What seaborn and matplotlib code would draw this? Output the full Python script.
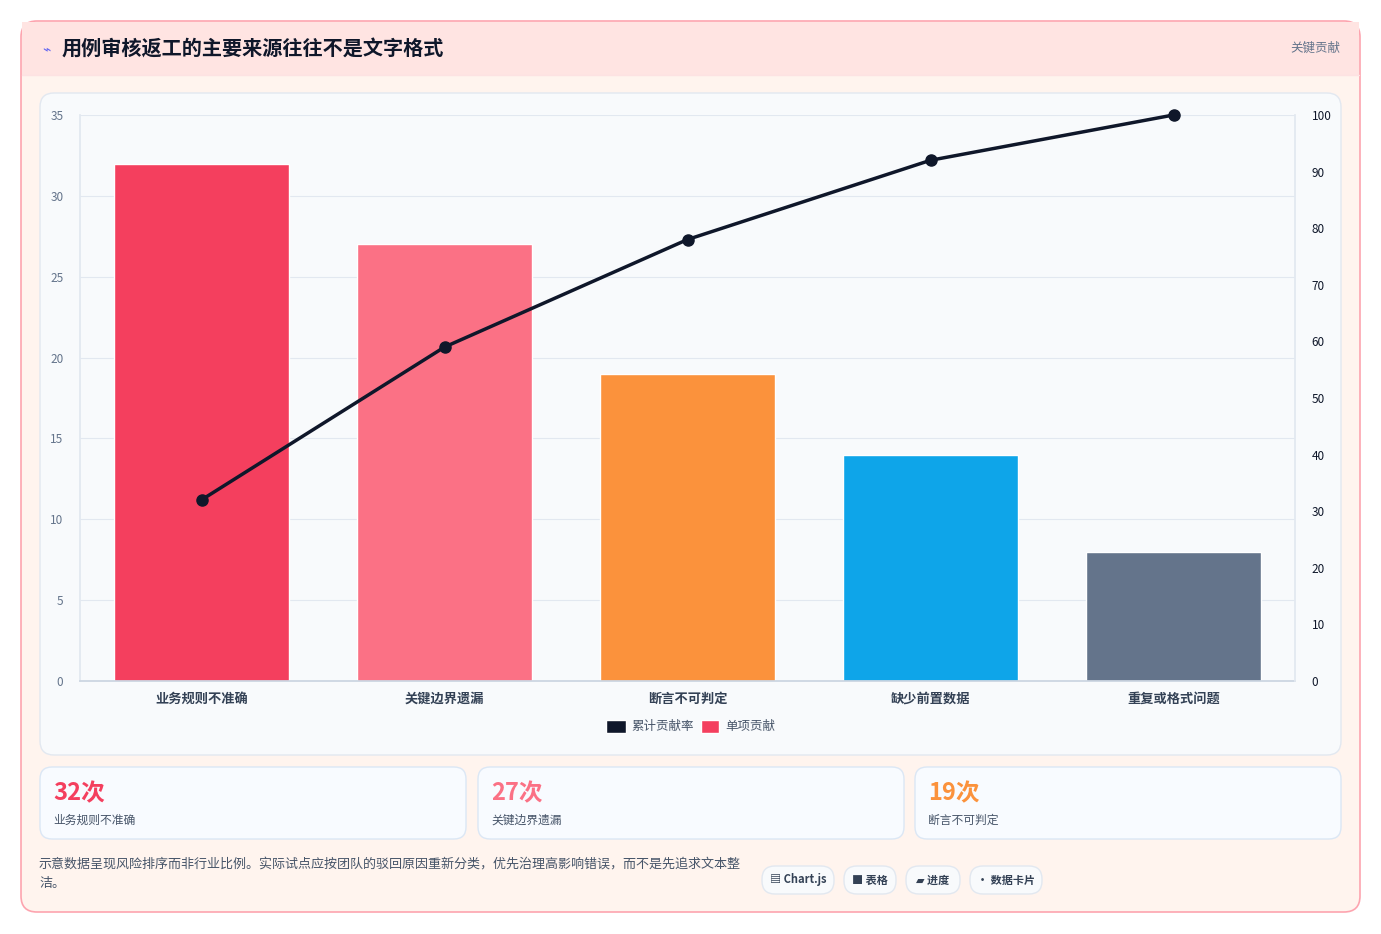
import matplotlib
matplotlib.use("Agg")
import matplotlib.pyplot as plt
import seaborn as sns
import pandas as pd
from matplotlib.patches import FancyBboxPatch, Rectangle
from matplotlib.lines import Line2D

categories = ["业务规则不准确", "关键边界遗漏", "断言不可判定", "缺少前置数据", "重复或格式问题"]
counts = [32, 27, 19, 14, 8]
cumulative = [32, 59, 78, 92, 100]
colors = ["#f43f5e", "#fb7185", "#fb923c", "#0ea5e9", "#64748b"]
left_ticks = [0, 5, 10, 15, 20, 25, 30, 35]
right_ticks = [0, 10, 20, 30, 40, 50, 60, 70, 80, 90, 100]

sns.set_theme(style="white")
plt.rcParams['font.family'] = ['Noto Sans CJK SC', 'DejaVu Sans']

W, H = 1381, 934
fig = plt.figure(figsize=(W/100, H/100), dpi=100)
fig.patch.set_facecolor("white")

def box(x, y, w, h, fc, ec, r=12, lw=1, z=0):
    p = FancyBboxPatch((x/W, 1-(y+h)/H), w/W, h/H,
                       boxstyle=f"round,pad=0,rounding_size={r/W}",
                       fc=fc, ec=ec, lw=lw, transform=fig.transFigure, zorder=z,
                       mutation_aspect=W/H)
    fig.patches.append(p)

# outer card
box(21, 21, 1339, 891, "#fff4ee", "#fda4af", r=16, lw=1.2)
fig.patches.append(Rectangle((22/W, 1-75/H), 1337/W, 53/H, fc="#ffe4e2", ec="none",
                             transform=fig.transFigure, zorder=0.5))
fig.add_artist(Line2D([22/W, 1359/W], [1-75/H, 1-75/H], color="#fde2e2", lw=1))
fig.text(42/W, 1-49/H, "⌁", color="#6366f1", fontsize=10, va="center")
fig.text(62/W, 1-49/H, "用例审核返工的主要来源往往不是文字格式", fontsize=14.5,
         fontweight="bold", color="#0f172a", va="center")
fig.text(1340/W, 1-48/H, "关键贡献", fontsize=9, color="#64748b", va="center", ha="right")

# chart panel
box(40, 93, 1301, 662, "#f8fafc", "#e2e8f0", r=14)

ax = fig.add_axes([80/W, 1-681/H, 1215/W, 566/H])
ax.set_zorder(3)
ax.set_facecolor("none")
df = pd.DataFrame({"cat": categories, "count": counts})
sns.barplot(data=df, x="cat", y="count", hue="cat", palette=colors, legend=False,
            width=0.72, ax=ax, saturation=1)
ax.set_ylim(0, 35)
ax.set_yticks(left_ticks)
ax.set_xlim(-0.5, 4.5)
ax.grid(axis="y", color="#e2e8f0", lw=0.8)
ax.set_axisbelow(True)
for s in ["top", "right"]:
    ax.spines[s].set_visible(False)
ax.spines["left"].set_color("#e2e8f0")
ax.spines["bottom"].set_color("#cbd5e1")
ax.set_xlabel(""); ax.set_ylabel("")
ax.tick_params(axis="y", labelsize=8.5, colors="#64748b", length=0, pad=12)
ax.tick_params(axis="x", labelsize=9.5, length=0, pad=8)
for t in ax.get_xticklabels():
    t.set_color("#334155"); t.set_fontweight("bold")

ax2 = ax.twinx()
ax2.set_zorder(4)
ax2.set_facecolor("none")
ax2.plot(range(len(categories)), cumulative, color="#0f172a", lw=2.5, marker="o",
         markersize=8, zorder=5, clip_on=False)
ax2.set_ylim(0, 100)
ax2.set_yticks(right_ticks)
ax2.tick_params(axis="y", labelsize=8.5, colors="#0f172a", length=0, pad=12)
for s in ["top", "left", "bottom"]:
    ax2.spines[s].set_visible(False)
ax2.spines["right"].set_color("#e2e8f0")
ax2.grid(False)

# legend
fig.patches.append(Rectangle((606/W, 1-733/H), 20/W, 13/H, fc="#0f172a", transform=fig.transFigure))
fig.text(631/W, 1-726/H, "累计贡献率", fontsize=9, color="#475569", va="center")
fig.patches.append(Rectangle((701/W, 1-733/H), 18/W, 13/H, fc="#f43f5e", transform=fig.transFigure))
fig.text(725/W, 1-726/H, "单项贡献", fontsize=9, color="#475569", va="center")

# stat cards
cards = [(40, "32次", "业务规则不准确", "#f43f5e"),
         (478, "27次", "关键边界遗漏", "#fb7185"),
         (915, "19次", "断言不可判定", "#fb923c")]
for x, v, lab, c in cards:
    box(x, 767, 426, 72, "#f8fbff", "#dbe7f5", r=12)
    fig.text((x+13)/W, 1-793/H, v, fontsize=17, fontweight="bold", color=c, va="center")
    fig.text((x+13)/W, 1-820/H, lab, fontsize=8.5, color="#475569", va="center")

fig.text(39/W, 1-864/H, "示意数据呈现风险排序而非行业比例。实际试点应按团队的驳回原因重新分类，优先治理高影响错误，而不是先追求文本整",
         fontsize=9.4, color="#475569", va="center", fontweight="medium")
fig.text(39/W, 1-884/H, "洁。", fontsize=9.4, color="#475569", va="center", fontweight="medium")

tags = [(762, 72, "▤ Chart.js"), (844, 52, "■ 表格"), (906, 54, "▰ 进度"), (970, 72, "• 数据卡片")]
for x, w, t in tags:
    box(x, 866, w, 28, "#f8fafc", "#e2e8f0", r=13)
    fig.text((x+w/2)/W, 1-880/H, t, fontsize=8, fontweight="bold", color="#334155",
             va="center", ha="center")

fig.savefig("out.png", dpi=100, facecolor=fig.get_facecolor())
